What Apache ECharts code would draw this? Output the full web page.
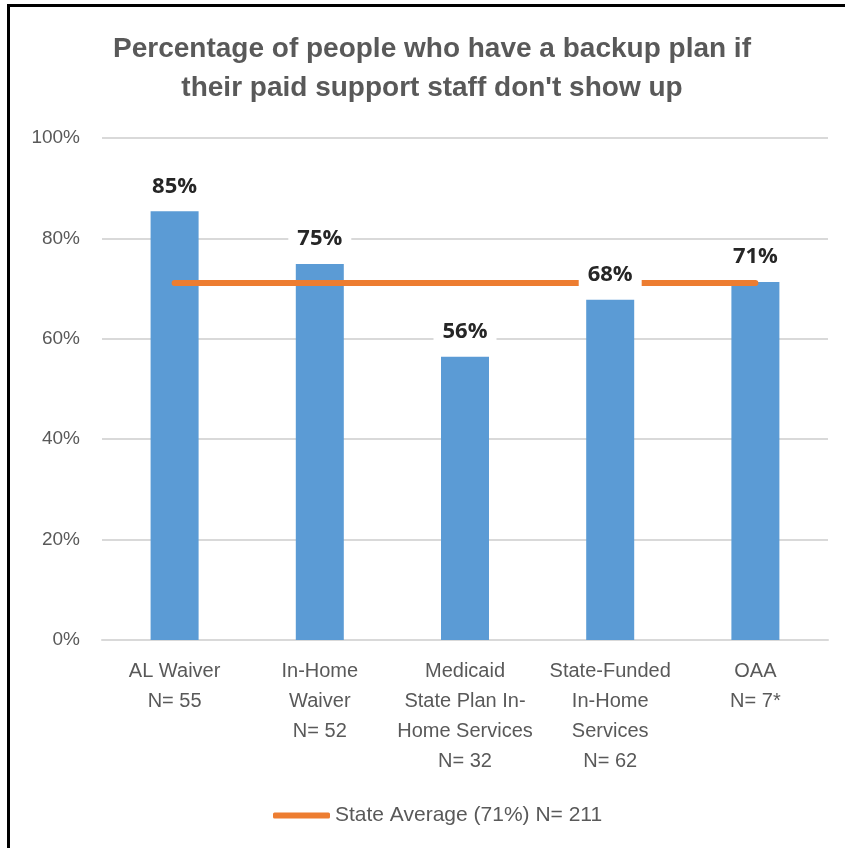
<!DOCTYPE html>
<html>
<head>
<meta charset="utf-8">
<script src="https://cdn.jsdelivr.net/npm/echarts@6/dist/echarts.min.js"></script>
<style>
  html, body { margin: 0; padding: 0; background: #fff; }
  #chart { width: 845px; height: 848px; }
  #frame { position: absolute; left: 7px; top: 4px; right: 0; bottom: 0;
           border-left: 3px solid #000; border-top: 3px solid #000; pointer-events: none; }
</style>
</head>
<body>
<div id="chart"></div>
<div id="frame"></div>
<script>
var categories = ['AL Waiver\nN= 55', 'In-Home\nWaiver\nN= 52', 'Medicaid\nState Plan In-\nHome Services\nN= 32', 'State-Funded\nIn-Home\nServices\nN= 62', 'OAA\nN= 7*']
var values = [85.4, 74.9, 56.4, 67.8, 71.3]   // 百分比
var stateAvg = 71.1
var avgName = 'State Average (71%) N= 211'
var yTicks = [0, 20, 40, 60, 80, 100]

var font = '"Liberation Sans Narrow", "Liberation Sans", sans-serif'
var avgLine = categories.map(function () { return stateAvg })

var chart = echarts.init(document.getElementById('chart'))
chart.setOption({
  animation: false,
  title: {
    text: 'Percentage of people who have a backup plan if\ntheir paid support staff don\'t show up',
    left: 427, top: 25, textAlign: 'center',
    textStyle: { fontFamily: font, fontSize: 28, fontWeight: 'bold', color: '#595959', lineHeight: 39 }
  },
  grid: { left: 102, right: 17, top: 138, bottom: 208 },
  legend: {
    data: [{ name: avgName, icon: 'roundRect' }], left: 268, top: 800,
    itemWidth: 57, itemHeight: 6,
    textStyle: { fontFamily: font, fontSize: 21, color: '#595959' }
  },
  xAxis: {
    type: 'category', data: categories,
    axisLine: { lineStyle: { color: '#D9D9D9', width: 2 } },
    axisTick: { show: false },
    axisLabel: { fontFamily: font, fontSize: 20, color: '#595959', lineHeight: 30, margin: 16, interval: 0 }
  },
  yAxis: {
    type: 'value', min: yTicks[0], max: yTicks[yTicks.length - 1], interval: 20,
    axisLabel: { formatter: '{value}%', fontFamily: font, fontSize: 19, color: '#595959', margin: 22 },
    splitLine: { lineStyle: { color: '#D9D9D9', width: 2 } },
    axisLine: { show: false }, axisTick: { show: false }
  },
  series: [
    { type: 'bar', data: values, barWidth: 48, z: 2,
      itemStyle: { color: '#5B9BD5' } },
    { name: avgName, type: 'line', data: avgLine, z: 3, symbol: 'none',
      lineStyle: { color: '#ED7D31', width: 6, cap: 'round' }, itemStyle: { color: '#ED7D31' } },
    // 标签层，盖在平均线之上
    { type: 'bar', data: values, barWidth: 48, barGap: '-100%', z: 4, silent: true,
      itemStyle: { color: 'transparent' },
      label: { show: true, position: 'top', distance: 12,
        formatter: function (p) { return Math.round(p.value) + '%' },
        fontFamily: '"Open Sans", "DejaVu Sans", sans-serif', fontSize: 22, fontWeight: 'bold', color: '#262626',
        backgroundColor: '#fff', padding: [2, 9] } }
  ]
})
</script>
</body>
</html>
